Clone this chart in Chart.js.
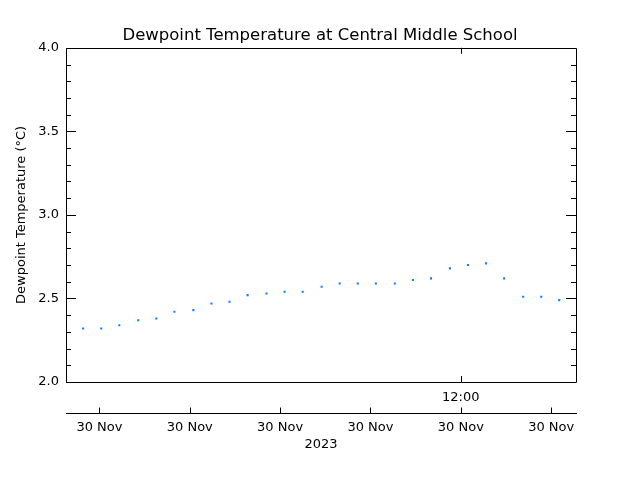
<!DOCTYPE html>
<html>
<head>
<meta charset="utf-8">
<script src="https://cdn.jsdelivr.net/npm/chart.js@4/dist/chart.umd.min.js"></script>
<style>
html,body{margin:0;padding:0;background:#fff;}
#wrap{width:640px;height:480px;}
</style>
</head>
<body>
<div id="wrap"><canvas id="c" width="640" height="480"></canvas></div>
<script>
// Time of each observation, minutes after midnight on 30 Nov 2023
const obsMinutes = [678.2, 680.2, 682.2, 684.3, 686.3, 688.3, 690.4, 692.4, 694.4, 696.4,
  698.5, 700.5, 702.5, 704.6, 706.6, 708.6, 710.6, 712.7, 714.7, 716.7,
  718.8, 720.8, 722.8, 724.8, 726.9, 728.9, 730.9];
// Dewpoint temperature (°C)
const dewpoint = [2.32, 2.32, 2.34, 2.37, 2.38, 2.42, 2.43, 2.47, 2.48, 2.52,
  2.53, 2.54, 2.54, 2.57, 2.59, 2.59, 2.59, 2.59, 2.61, 2.62,
  2.68, 2.70, 2.71, 2.62, 2.51, 2.51, 2.49];
// Tick positions (minutes after midnight) and labels
const timeTicks = [720];
const timeTickLabels = ['12:00'];
const dateTicks = [680, 690, 700, 710, 720, 730];
const dateTickLabels = ['30 Nov', '30 Nov', '30 Nov', '30 Nov', '30 Nov', '30 Nov'];
const yMajorTicks = [2.0, 2.5, 3.0, 3.5, 4.0];
const yearLabel = '2023';
const titleText = 'Dewpoint Temperature at Central Middle School';
const yTitle = 'Dewpoint Temperature (°C)';

const X_MIN = 676.3, X_MAX = 732.75;
const FONT = 'DejaVu Sans';

const framePlugin = {
  id: 'frame',
  afterDraw(chart) {
    const ctx = chart.ctx;
    const a = chart.chartArea;
    const ys = chart.scales.y, xs = chart.scales.x, x2 = chart.scales.x2;
    ctx.save();
    ctx.strokeStyle = '#000';
    ctx.lineWidth = 1;
    ctx.beginPath();
    ctx.rect(Math.round(a.left) + 0.5, Math.round(a.top) + 0.5,
             Math.round(a.right - a.left), Math.round(a.bottom - a.top));
    ctx.stroke();
    // y ticks, left and right, inward
    ctx.beginPath();
    for (let v = 20; v <= 40; v++) {
      const py = Math.round(ys.getPixelForValue(v / 10)) + 0.5;
      const len = (v % 5 === 0) ? 10 : 5;
      ctx.moveTo(a.left, py); ctx.lineTo(a.left + len, py);
      ctx.moveTo(a.right, py); ctx.lineTo(a.right - len, py);
    }
    // x ticks on frame
    timeTicks.forEach(t => {
      const px = Math.round(xs.getPixelForValue(t)) + 0.5;
      ctx.moveTo(px, a.bottom); ctx.lineTo(px, a.bottom - 6);
      ctx.moveTo(px, a.top); ctx.lineTo(px, a.top + 6);
    });
    // secondary date axis
    const yl = Math.round(x2.top) + 0.5;
    ctx.moveTo(a.left, yl); ctx.lineTo(a.right + 1, yl);
    dateTicks.forEach(t => {
      const px = Math.round(x2.getPixelForValue(t)) + 0.5;
      ctx.moveTo(px, yl); ctx.lineTo(px, yl - 6);
    });
    ctx.stroke();
    ctx.restore();
  }
};

new Chart(document.getElementById('c'), {
  type: 'scatter',
  data: {
    datasets: [{
      data: obsMinutes.map((t, i) => ({x: t, y: dewpoint[i]})),
      pointStyle: 'rect',
      pointRadius: 1.45,
      pointHoverRadius: 1.45,
      pointBackgroundColor: '#0080ff',
      pointBorderWidth: 0,
      showLine: false
    }]
  },
  options: {
    responsive: false,
    animation: false,
    events: [],
    layout: {padding: {left: 0, right: 0, top: 0, bottom: 29}},
    plugins: {
      legend: {display: false},
      tooltip: {enabled: false},
      title: {
        display: true,
        text: titleText,
        color: '#000',
        font: {family: FONT, size: 16.5, weight: 'normal', lineHeight: 1.2},
        padding: {top: 26, bottom: 2}
      }
    },
    scales: {
      x: {
        type: 'linear', position: 'bottom', min: X_MIN, max: X_MAX,
        afterBuildTicks: s => { s.ticks = timeTicks.map(v => ({value: v})); },
        afterFit: s => { s.height = 31; },
        grid: {display: false, drawTicks: false},
        border: {display: false},
        ticks: {
          color: '#000', padding: 8, maxRotation: 0, autoSkip: false,
          font: {family: FONT, size: 13},
          callback: (v) => timeTickLabels[timeTicks.indexOf(v)] ?? ''
        }
      },
      x2: {
        type: 'linear', position: 'bottom', min: X_MIN, max: X_MAX,
        afterBuildTicks: s => { s.ticks = dateTicks.map(v => ({value: v})); },
        afterFit: s => { s.height = 38; },
        grid: {display: false, drawTicks: false},
        border: {display: false},
        ticks: {
          color: '#000', padding: 7, maxRotation: 0, autoSkip: false,
          font: {family: FONT, size: 13},
          callback: (v) => dateTickLabels[dateTicks.indexOf(v)] ?? ''
        },
        title: {display: true, text: yearLabel, color: '#000', padding: {top: 0, bottom: -1},
                font: {family: FONT, size: 13}}
      },
      y: {
        min: 2, max: 4,
        afterBuildTicks: s => { s.ticks = yMajorTicks.map(v => ({value: v})); },
        afterFit: s => { s.width = 66; },
        grid: {display: false, drawTicks: false},
        border: {display: false},
        ticks: {
          color: '#000', padding: 7,
          font: {family: FONT, size: 13},
          callback: v => v.toFixed(1)
        },
        title: {display: true, text: yTitle, color: '#000', padding: {top: 14, bottom: 0},
                font: {family: FONT, size: 13}}
      },
      yR: {
        position: 'right', min: 2, max: 4,
        afterFit: s => { s.width = 64; },
        grid: {display: false, drawTicks: false},
        border: {display: false},
        ticks: {display: false}
      }
    }
  },
  plugins: [framePlugin]
});
</script>
</body>
</html>
